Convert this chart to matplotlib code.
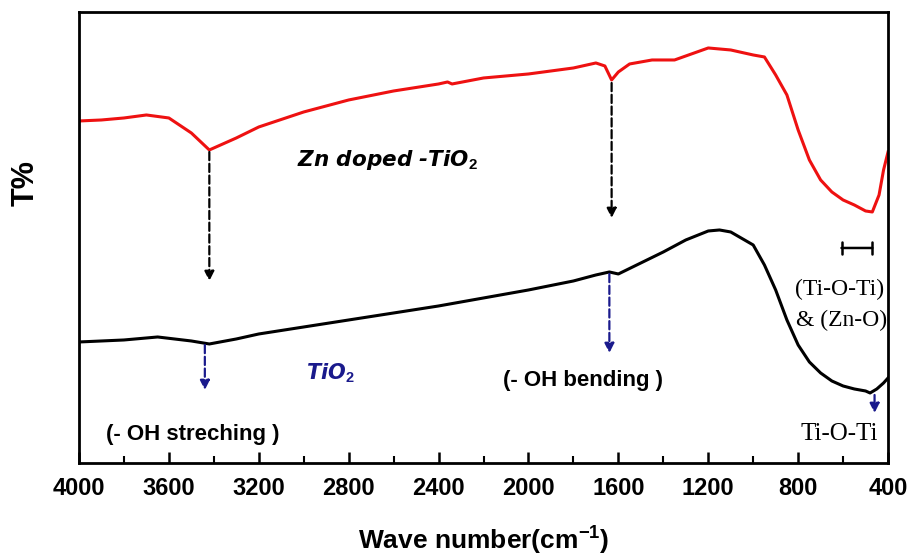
import matplotlib
matplotlib.use('Agg')
import matplotlib.pyplot as plt
from matplotlib.ticker import MultipleLocator

plt.rcParams['mathtext.fontset'] = 'custom'
plt.rcParams['mathtext.rm'] = 'Liberation Sans'
plt.rcParams['mathtext.bf'] = 'Liberation Sans:bold'

# wavenumbers (cm-1) and transmittance (arbitrary units)
zn_wn = [4000, 3900, 3800, 3700, 3600, 3500, 3420, 3300, 3200, 3000, 2800, 2600,
         2400, 2360, 2340, 2200, 2000, 1800, 1700, 1660, 1630, 1600, 1550, 1450,
         1350, 1300, 1200, 1100, 1000, 950, 900, 850, 800, 750, 700, 650, 600,
         550, 500, 470, 440, 420, 400]
zn_t = [342, 343, 345, 348, 345, 330, 313, 325, 336, 351, 363, 372,
        379, 381, 379, 385, 389, 395, 400, 397, 383, 391, 399, 403,
        403, 407, 415, 413, 408, 406, 388, 368, 333, 303, 283, 271, 263,
        258, 252, 251, 268, 293, 311]

tio2_wn = [4000, 3800, 3650, 3500, 3420, 3300, 3200, 3000, 2800, 2600, 2400,
           2200, 2000, 1800, 1700, 1640, 1600, 1500, 1400, 1300, 1200, 1150,
           1100, 1000, 950, 900, 850, 800, 750, 700, 650, 600, 550, 500, 480,
           450, 420, 400]
tio2_t = [121, 123, 126, 122, 119, 124, 129, 136, 143, 150, 157,
          165, 173, 182, 188, 191, 189, 200, 211, 223, 232, 233,
          231, 218, 198, 173, 143, 118, 101, 90, 82, 77, 74, 72, 70,
          74, 80, 85]

xticks = [4000, 3600, 3200, 2800, 2400, 2000, 1600, 1200, 800, 400]

fig = plt.figure(figsize=(9.11, 5.57), dpi=100)
ax = fig.add_axes([0.0867, 0.1688, 0.8881, 0.8097])

ax.plot(zn_wn, zn_t, color='#ee1111', lw=2.2)
ax.plot(tio2_wn, tio2_t, color='black', lw=2.2)

ax.set_xlim(4000, 400)
ax.set_ylim(0, 451)

# black dashed arrows (Zn doped -> TiO2)
for x0, y0, y1 in [(3420, 311, 182), (1630, 380, 245)]:
    ax.annotate('', xy=(x0, y1), xytext=(x0, y0),
                arrowprops=dict(arrowstyle='-|>', ls='--', lw=1.6, color='black',
                                mutation_scale=14, shrinkA=0, shrinkB=0))

# blue dashed arrows on TiO2
for x0, y0, y1 in [(3440, 118, 73), (1640, 189, 110), (460, 68, 50)]:
    ax.annotate('', xy=(x0, y1), xytext=(x0, y0),
                arrowprops=dict(arrowstyle='-|>', ls='--', lw=1.6, color='#1a1a8c',
                                mutation_scale=14, shrinkA=0, shrinkB=0))

# range bar for Ti-O-Ti / Zn-O
ax.annotate('', xy=(470, 215), xytext=(607, 215),
            arrowprops=dict(arrowstyle='|-|', lw=1.8, color='black',
                            mutation_scale=4, shrinkA=0, shrinkB=0))

ax.text(2625, 303, 'Zn doped -TiO$_\\mathbf{2}$', fontsize=15.5, fontweight='bold',
        fontstyle='italic', ha='center', va='center', family='DejaVu Sans')
ax.text(2880, 90, 'TiO$_\\mathbf{2}$', fontsize=15, fontweight='bold',
        fontstyle='italic', color='#1a1a8c', ha='center', va='center',
        family='DejaVu Sans')
ax.text(3493, 28, '(- OH streching )', fontsize=16, fontweight='bold',
        ha='center', va='center', family='Liberation Sans')
ax.text(1757, 82, '(- OH bending )', fontsize=16, fontweight='bold',
        ha='center', va='center', family='Liberation Sans')
ax.text(615, 29, 'Ti-O-Ti', fontsize=18, ha='center', va='center',
        family='Liberation Serif')
ax.text(615, 174, '(Ti-O-Ti)', fontsize=17, ha='center', va='center',
        family='Liberation Serif')
ax.text(605, 143, '& (Zn-O)', fontsize=17, ha='center', va='center',
        family='Liberation Serif')

ax.set_xticks(xticks)
ax.xaxis.set_minor_locator(MultipleLocator(200))
ax.set_yticks([])
ax.tick_params(axis='x', which='major', direction='in', length=8, width=1.8,
               pad=10, labelsize=17)
ax.tick_params(axis='x', which='minor', direction='in', length=5, width=1.5)
for lab in ax.get_xticklabels():
    lab.set_fontweight('bold')
    lab.set_family('Liberation Sans')
for s in ax.spines.values():
    s.set_linewidth(2)

ax.set_xlabel('Wave number(cm$^{\\mathbf{-1}}$)', fontsize=19, fontweight='bold',
              family='Liberation Sans', labelpad=17)
ax.set_ylabel('T%', fontsize=22, fontweight='bold', family='Liberation Sans')
ax.yaxis.set_label_coords(-0.047, 0.62)

fig.savefig('out.png', dpi=100)
